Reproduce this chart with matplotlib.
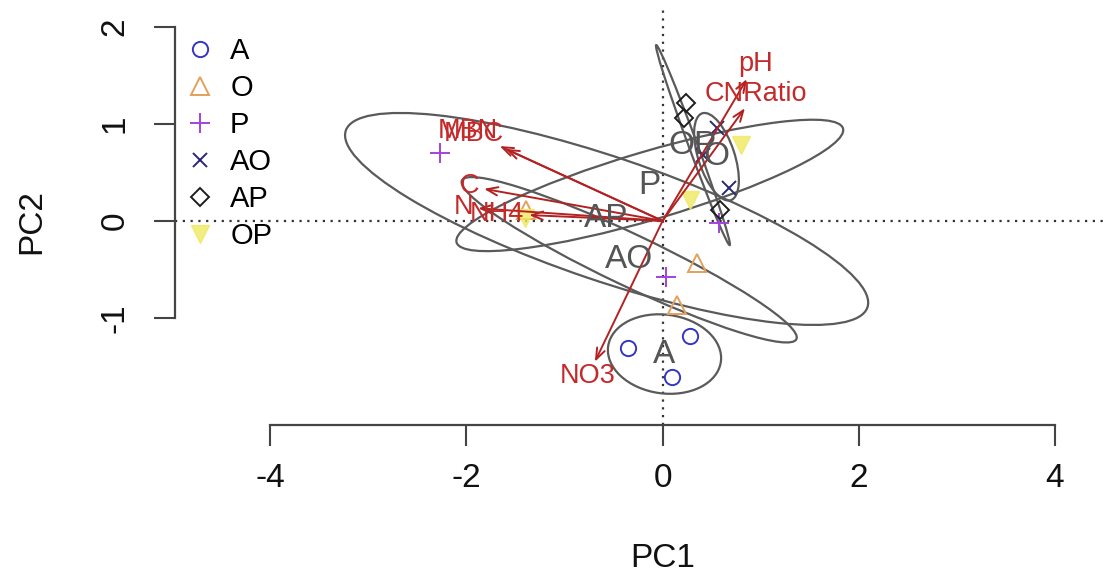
import numpy as np
import matplotlib
matplotlib.use("Agg")
import matplotlib.pyplot as plt
from matplotlib.patches import Ellipse
from matplotlib.lines import Line2D

plt.rcParams['font.family'] = ['Liberation Sans', 'DejaVu Sans']

# groups in legend order
groups = ["A", "O", "P", "AO", "AP", "OP"]
group_colors = ["#3535c4", "#e2a15c", "#a142dd", "#2a2a70", "#1e1e1e", "#efe962"]
group_markers = ["o", "^", "+", "x", "D", "v"]

# site scores, three sites per group
pc1_A = [-0.35, 0.28, 0.10]
pc2_A = [-1.31, -1.18, -1.61]
pc1_O = [0.35, 0.15, -1.39]
pc2_O = [-0.43, -0.87, 0.11]
pc1_P = [-2.27, 0.58, 0.04]
pc2_P = [0.70, -0.02, -0.58]
pc1_AO = [0.56, 0.68, 0.41]
pc2_AO = [0.96, 0.34, 0.68]
pc1_AP = [0.24, 0.22, 0.59]
pc2_AP = [1.21, 1.06, 0.11]
pc1_OP = [0.80, 0.28, -1.40]
pc2_OP = [0.78, 0.22, 0.03]
site_pc1 = [pc1_A, pc1_O, pc1_P, pc1_AO, pc1_AP, pc1_OP]
site_pc2 = [pc2_A, pc2_O, pc2_P, pc2_AO, pc2_AP, pc2_OP]

# group ellipses (same order as groups); the labels come out in factor-level order
ell_x = [0.02, -0.34, -0.57, 0.55, 0.31, -0.13]
ell_y = [-1.37, -0.40, 0.02, 0.66, 0.78, 0.365]
ell_w = [1.16, 3.78, 5.62, 0.94, 2.19, 4.11]
ell_h = [0.81, 0.53, 1.27, 0.37, 0.09, 0.70]
ell_angle = [-8, -25.6, -18.9, 108, 110, 16.6]
ell_labels = ["A", "AO", "AP", "O", "OP", "P"]

# fitted environmental vectors
vec_names = ["pH", "CNRatio", "MBC", "MBN", "C", "N", "NH4", "NO3"]
vec_pc1 = [0.86, 0.84, -1.60, -1.66, -1.82, -1.88, -1.36, -0.69]
vec_pc2 = [1.46, 1.16, 0.74, 0.77, 0.33, 0.13, 0.06, -1.45]

W, H = 1103, 579
fig = plt.figure(figsize=(W / 100, H / 100), dpi=100)
ax = fig.add_axes([175 / W, 1 - 425 / H, 1 - 175 / W, 415 / H])
ax.set_xlim(-4.97, 4.49)
ax.set_ylim(-2.10, 2.17)

ax.axhline(0, ls=(0, (1, 2.5)), lw=1.6, color="#333333", zorder=1)
ax.axvline(0, ls=(0, (1, 2.5)), lw=1.6, color="#333333", zorder=1)

# points
for g, xs, ys, c, m in zip(groups, site_pc1, site_pc2, group_colors, group_markers):
    if g == "OP":
        ax.plot(xs, ys, ls="none", marker=m, ms=13, mfc=c, mec=c, alpha=0.8, zorder=3)
    else:
        ms = {"o": 11, "^": 13, "+": 15, "x": 10, "D": 9}[m]
        ax.plot(xs, ys, ls="none", marker=m, ms=ms, mfc="none", mec=c, mew=1.4, zorder=3)

# ellipses
for cx, cy, w, h, a in zip(ell_x, ell_y, ell_w, ell_h, ell_angle):
    ax.add_patch(Ellipse((cx, cy), w, h, angle=a, fill=False, ec="#5a5a5a", lw=1.6, zorder=2))

# vectors
for vx, vy in zip(vec_pc1, vec_pc2):
    ax.annotate("", xy=(vx, vy), xytext=(0, 0),
                arrowprops=dict(arrowstyle="->,head_length=0.8,head_width=0.3",
                                color="#b32222", lw=1.4, shrinkA=0, shrinkB=0,
                                mutation_scale=10), zorder=4)

# vector labels, placed like vegan's ordiArrowTextXY
fig.canvas.draw()
renderer = fig.canvas.get_renderer()
px_per_x = ax.transData.transform((1, 0))[0] - ax.transData.transform((0, 0))[0]
px_per_y = ax.transData.transform((0, 1))[1] - ax.transData.transform((0, 0))[1]
lab_fs = 19.5
for name, vx, vy in zip(vec_names, vec_pc1, vec_pc2):
    t = ax.text(0, 0, name, fontsize=lab_fs, color="#c42a2a", ha="center", va="center", zorder=5)
    wpx = t.get_window_extent(renderer).width
    w = wpx / px_per_x
    h = 0.72 * lab_fs * 100 / 72 / px_per_y
    b = vy / vx
    ox = np.sign(vx) * (w / 2 + h / 4)
    oy = 0.75 * h * np.sign(vy)
    move = oy / b
    if np.isfinite(move) and abs(move) <= abs(ox):
        ox = move
    else:
        oy = b * ox
    t.set_position((vx + ox, vy + oy))

# ellipse labels
for cx, cy, lab in zip(ell_x, ell_y, ell_labels):
    ax.text(cx, cy, lab, fontsize=24, color="#555555", ha="center", va="center", zorder=5)

# axes
for s in ["top", "right"]:
    ax.spines[s].set_visible(False)
ax.spines["left"].set_bounds(-1, 2)
ax.spines["bottom"].set_bounds(-4, 4)
for s in ["left", "bottom"]:
    ax.spines[s].set_color("#444444")
    ax.spines[s].set_linewidth(1.6)
ax.set_xticks([-4, -2, 0, 2, 4])
ax.set_yticks([-1, 0, 1, 2])
ax.set_xticklabels(["-4", "-2", "0", "2", "4"])
ax.set_yticklabels(["-1", "0", "1", "2"])
ax.tick_params(length=15, width=1.5, color="#444444", labelsize=24, labelcolor="#111111")
ax.tick_params(axis="x", pad=12.5)
ax.tick_params(axis="y", pad=17)
for lab in ax.get_yticklabels():
    lab.set_rotation(90)
    lab.set_va("center")
ax.set_xlabel("PC1", fontsize=24, color="#111111")
ax.set_ylabel("PC2", fontsize=24, color="#111111")
ax.xaxis.set_label_coords((663 - 175) / 928, (425 - 543) / 415)
ax.yaxis.set_label_coords((47 - 175) / 928, (425 - 222) / 415)

# legend
handles = []
for g, c, m in zip(groups, group_colors, group_markers):
    if g == "OP":
        handles.append(Line2D([], [], ls="none", marker=m, ms=13, mfc=c, mec=c, alpha=0.8))
    else:
        ms = {"o": 11, "^": 13, "+": 15, "x": 10, "D": 9}[m]
        handles.append(Line2D([], [], ls="none", marker=m, ms=ms, mfc="none", mec=c, mew=1.4))
ax.legend(handles, groups, loc="upper left", bbox_to_anchor=(185.5 / W, 1 - 37 / H),
          bbox_transform=fig.transFigure, frameon=False, fontsize=21,
          handlelength=1.0, handletextpad=0.53, labelspacing=0.31,
          borderpad=0, borderaxespad=0)

fig.savefig("out.png", dpi=100)
